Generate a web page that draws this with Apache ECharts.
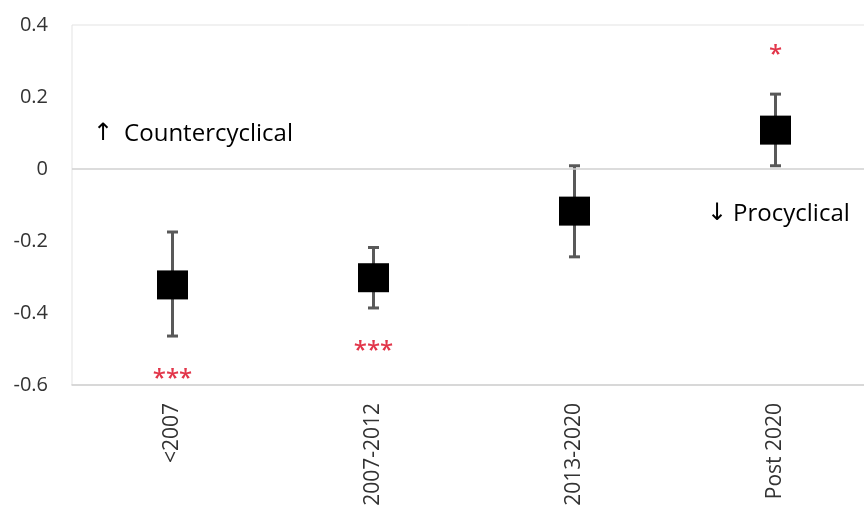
<!DOCTYPE html>
<html>
<head>
<meta charset="utf-8">
<script src="https://cdn.jsdelivr.net/npm/echarts@6/dist/echarts.min.js"></script>
<style>
  html, body { margin: 0; padding: 0; background: #fff; }
  #chart { width: 864px; height: 506px; }
</style>
</head>
<body>
<div id="chart"></div>
<script>
// Periods and estimated coefficients with confidence bounds
const periods = ['<2007', '2007-2012', '2013-2020', 'Post 2020'];
const estimates = [-0.322, -0.302, -0.117, 0.108];
const lowerBounds = [-0.464, -0.386, -0.244, 0.009];
const upperBounds = [-0.175, -0.218, 0.009, 0.208];
const significance = ['***', '***', '', '*'];
const yTicks = [-0.6, -0.4, -0.2, 0, 0.2, 0.4];

const FONT = '"Open Sans", sans-serif';
const TEXT = '#333333';

const chart = echarts.init(document.getElementById('chart'), null, { renderer: 'canvas' });

// Error bars: vertical whisker with caps, plus significance stars beyond the bound
function renderErrorBar(params, api) {
  const i = api.value(0);
  const lo = api.coord([i, api.value(1)]);
  const hi = api.coord([i, api.value(2)]);
  const x = lo[0];
  const cap = 5.5;
  const style = { stroke: '#595959', lineWidth: 3 };
  const children = [
    { type: 'line', shape: { x1: x, y1: lo[1], x2: x, y2: hi[1] }, style },
    { type: 'line', shape: { x1: x - cap, y1: lo[1], x2: x + cap, y2: lo[1] }, style },
    { type: 'line', shape: { x1: x - cap, y1: hi[1], x2: x + cap, y2: hi[1] }, style }
  ];
  const stars = significance[i];
  if (stars) {
    const positive = estimates[i] > 0;
    children.push({
      type: 'text',
      style: {
        text: stars,
        x: x,
        y: positive ? hi[1] - 39 : lo[1] + 43,
        align: 'center',
        verticalAlign: 'middle',
        fill: '#e2364a',
        font: '600 24px ' + FONT
      }
    });
  }
  return { type: 'group', children };
}

const annotationRich = {
  arrow: { fontFamily: '"DejaVu Sans", sans-serif', fontSize: 24, color: TEXT },
  word: { fontFamily: FONT, fontSize: 24, color: TEXT }
};

chart.setOption({
  animation: false,
  backgroundColor: '#ffffff',
  grid: {
    left: 72, right: -12, top: 25, bottom: 121,
    outerBoundsMode: 'none',
    containLabel: false,
    show: true, borderColor: '#e3e3e3', borderWidth: 1
  },
  xAxis: {
    type: 'category',
    data: periods,
    boundaryGap: true,
    axisLine: { onZero: false, lineStyle: { color: '#d0d0d0', width: 1.5 } },
    axisTick: { show: false },
    axisLabel: {
      rotate: 90, margin: 18, color: TEXT, fontSize: 21, fontFamily: FONT
    },
    splitLine: { show: false }
  },
  yAxis: {
    type: 'value',
    min: -0.6, max: 0.4, interval: 0.2,
    axisLine: { show: false },
    axisTick: { show: false },
    splitLine: { show: false },
    axisLabel: {
      margin: 24, color: TEXT, fontSize: 20, fontFamily: FONT,
      formatter: v => {
        const r = Math.round(v * 10) / 10;
        return yTicks.includes(r) ? String(r) : '';
      }
    }
  },
  graphic: [
    {
      type: 'text', left: 93, top: 122,
      style: {
        text: '{arrow|↑}{gap|}{word|Countercyclical}',
        rich: Object.assign({ gap: { width: 11 } }, annotationRich)
      }
    },
    {
      type: 'text', left: 707, top: 202,
      style: {
        text: '{arrow|↓}{gap|}{word|Procyclical}',
        rich: Object.assign({ gap: { width: 6 } }, annotationRich)
      }
    }
  ],
  series: [
    {
      type: 'custom',
      renderItem: renderErrorBar,
      data: periods.map((p, i) => [i, lowerBounds[i], upperBounds[i]]),
      encode: { x: 0, y: [1, 2] },
      z: 2,
      markLine: {
        silent: true,
        symbol: 'none',
        label: { show: false },
        lineStyle: { color: '#d0d0d0', width: 1.5, type: 'solid' },
        data: [{ yAxis: 0 }]
      }
    },
    {
      type: 'scatter',
      data: estimates,
      symbol: 'rect',
      symbolSize: [31, 29],
      itemStyle: { color: '#000000', opacity: 1 },
      z: 3
    }
  ]
});
</script>
</body>
</html>
